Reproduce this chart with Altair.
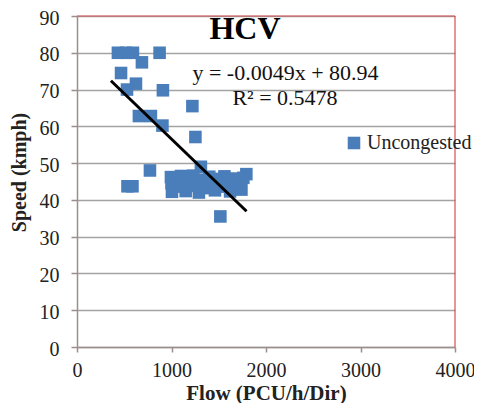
import altair as alt
import pandas as pd

# ---- data ----
flow = [433, 518, 592, 874, 687, 466, 624, 529, 909, 655, 782, 904, 1221, 1253,
        772, 534, 587, 1311, 1517, 1792,
        994, 1000, 1005, 1040, 1070, 1100, 1120, 1150, 1180, 1200, 1230, 1260,
        1290, 1340, 1370, 1400, 1430, 1460, 1500, 1530, 1560, 1590, 1620, 1650,
        1680, 1710, 1740, 1760]
speed = [80, 80, 80, 80, 77.4, 74.5, 71.6, 70.0, 69.8, 62.8, 62.8, 60.2, 65.5, 57.1,
         48.0, 43.7, 43.7, 49.0, 35.5, 47.0,
         46.2, 44.5, 42.2, 45.8, 43.6, 46.5, 44.8, 42.4, 45.9, 43.8, 46.6, 44.6,
         42.0, 45.5, 43.2, 46.3, 44.2, 42.6, 45.7, 43.6, 46.4, 44.3, 42.3, 45.8,
         43.5, 44.8, 42.8, 46.0]
series_name = "Uncongested"
trend_flow = [359, 1794]
trend_speed = [72.4, 36.9]
title_text = ["HCV"]
equation_text = ["y = -0.0049x + 80.94"]
r2_text = ["R² = 0.5478"]
x_ticks = [0, 1000, 2000, 3000, 4000]
y_ticks = [0, 10, 20, 30, 40, 50, 60, 70, 80, 90]

pts = pd.DataFrame({"flow": flow, "speed": speed, "series": [series_name] * len(flow)})
trend = pd.DataFrame({"flow": trend_flow, "speed": trend_speed})

FONT = "Liberation Serif"
W, H = 378, 331
BLUE = "#4a7ebb"
AXIS_GREY = "#9c8e8e"
GRID_GREY = "#a3a3a3"
RED = "#d45050"

xs = alt.Scale(domain=[0, 4000], nice=False, zero=True)
ys = alt.Scale(domain=[0, 90], nice=False, zero=True)

x_axis = alt.Axis(values=x_ticks, format="d", title="Flow (PCU/h/Dir)",
                  grid=False,
                  domainColor=AXIS_GREY, domainWidth=1.5, tickColor=AXIS_GREY,
                  tickWidth=1.5, tickSize=5, labelPadding=8, labelFont=FONT,
                  labelFontSize=20, labelColor="#222222", labelFlush=False,
                  labelOverlap=False,
                  titleFont=FONT, titleFontSize=21, titleFontWeight="bold",
                  titleColor="#222222", titleBaseline="alphabetic", titleY=52,
                  titleX=W / 2)
y_axis = alt.Axis(values=y_ticks, format="d", title="Speed (kmph)",
                  grid=True, gridColor=GRID_GREY, gridWidth=1.5,
                  domainColor=AXIS_GREY, domainWidth=1.5, tickColor=AXIS_GREY,
                  tickWidth=1.5, tickSize=6, labelPadding=12, labelFont=FONT,
                  labelFontSize=20, labelColor="#222222", labelFlush=False,
                  labelOverlap=False, labelOffset=2,
                  titleFont=FONT, titleFontSize=20, titleFontWeight="bold",
                  titleColor="#222222", titleAngle=270, titleAlign="center",
                  titleBaseline="middle", titleX=-58, titleY=156)

points = alt.Chart(pts).mark_square(size=158, opacity=1, filled=True).encode(
    x=alt.X("flow:Q", scale=xs, axis=x_axis),
    y=alt.Y("speed:Q", scale=ys, axis=y_axis),
    color=alt.Color("series:N", scale=alt.Scale(range=[BLUE]),
                    legend=alt.Legend(title=None, orient="none", legendX=267,
                                      legendY=117, padding=0, symbolType="square",
                                      symbolSize=158, symbolStrokeWidth=0,
                                      symbolOpacity=1, labelFont=FONT,
                                      labelFontSize=20, labelColor="#222222",
                                      labelOffset=3, labelLimit=300)),
)

trend_line = alt.Chart(trend).mark_line(color="black", strokeWidth=3).encode(
    x=alt.X("flow:Q", scale=xs, axis=x_axis),
    y=alt.Y("speed:Q", scale=ys, axis=y_axis),
)

top_border = alt.Chart(pd.DataFrame({"a": [0]})).mark_rule(color=RED, strokeWidth=1.2).encode(
    x=alt.value(0), x2=alt.value(W), y=alt.value(0))
right_border = alt.Chart(pd.DataFrame({"a": [0]})).mark_rule(color=RED, strokeWidth=1.2).encode(
    x=alt.value(W), y=alt.value(0), y2=alt.value(H))

title_mark = alt.Chart(pd.DataFrame({"t": title_text})).mark_text(
    font=FONT, fontSize=32, fontWeight="bold", color="black", align="center",
    baseline="alphabetic").encode(text="t:N", x=alt.value(168), y=alt.value(23))
eq_mark = alt.Chart(pd.DataFrame({"t": equation_text})).mark_text(
    font=FONT, fontSize=22, color="#111111", align="center",
    baseline="alphabetic").encode(text="t:N", x=alt.value(208.5), y=alt.value(64))
r2_mark = alt.Chart(pd.DataFrame({"t": r2_text})).mark_text(
    font=FONT, fontSize=22, color="#111111", align="center",
    baseline="alphabetic").encode(text="t:N", x=alt.value(208), y=alt.value(89))

chart = alt.layer(points, trend_line, top_border, right_border, title_mark,
                  eq_mark, r2_mark).properties(
    width=W, height=H,
    autosize=alt.AutoSizeParams(type="none"),
    padding={"left": 69, "top": 8, "right": 19, "bottom": 56},
).configure_view(stroke=None)

chart.save("out.html", embed_options={"renderer": "svg", "actions": False})
